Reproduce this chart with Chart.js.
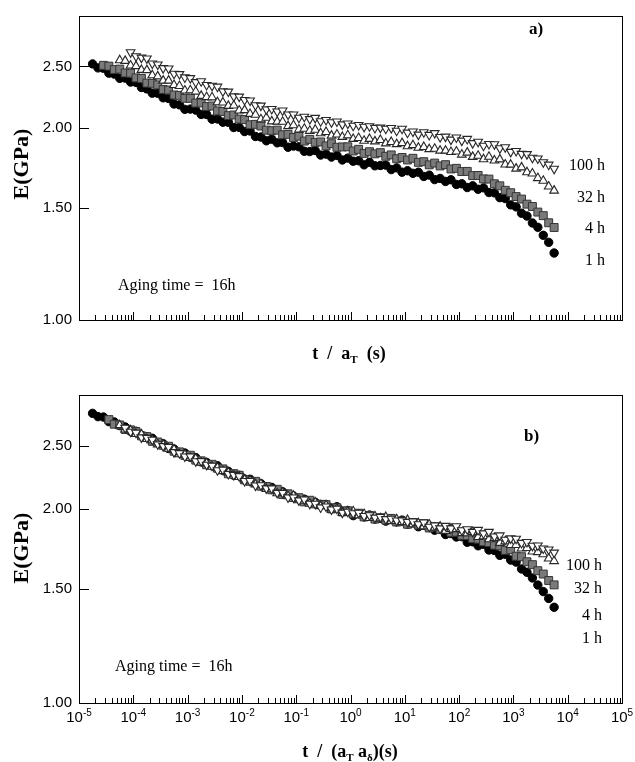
<!DOCTYPE html>
<html>
<head>
<meta charset="utf-8">
<script src="https://cdn.jsdelivr.net/npm/chart.js@4.4.1/dist/chart.umd.min.js"></script>
<style>
  body { margin: 0; background: #fff; }
  .panel { position: absolute; left: 0; width: 635px; }
  #wrapA { top: 0; height: 375px; }
  #wrapB { top: 375px; height: 387px; }
</style>
</head>
<body>
<div class="panel" id="wrapA"><canvas id="chartA"></canvas></div>
<div class="panel" id="wrapB"><canvas id="chartB"></canvas></div>
<script>
// ==============================
// Data
// ==============================
// log10 of the reduced time, one value per measured point
const logT = [
  -4.75,-4.65,-4.55,-4.45,-4.35,-4.25,-4.15,-4.05,-3.95,-3.85,
  -3.75,-3.65,-3.55,-3.45,-3.35,-3.25,-3.15,-3.05,-2.95,-2.85,
  -2.75,-2.65,-2.55,-2.45,-2.35,-2.25,-2.15,-2.05,-1.95,-1.85,
  -1.75,-1.65,-1.55,-1.45,-1.35,-1.25,-1.15,-1.05,-0.95,-0.85,
  -0.75,-0.65,-0.55,-0.45,-0.35,-0.25,-0.15,-0.05,0.05,0.15,
  0.25,0.35,0.45,0.55,0.65,0.75,0.85,0.95,1.05,1.15,
  1.25,1.35,1.45,1.55,1.65,1.75,1.85,1.95,2.05,2.15,
  2.25,2.35,2.45,2.55,2.65,2.75,2.85,2.95,3.05,3.15,
  3.25,3.35,3.45,3.55,3.65,3.75
];

// panel a) E (GPa) vs t/aT
const a1h = [
  2.523,2.487,2.484,2.440,2.432,2.395,2.397,2.363,2.360,2.317,
  2.305,2.270,2.269,2.232,2.227,2.183,2.176,2.141,2.143,2.135,
  2.102,2.102,2.066,2.068,2.044,2.043,2.005,2.006,1.976,1.980,
  1.941,1.937,1.911,1.922,1.897,1.899,1.867,1.875,1.870,1.840,
  1.838,1.845,1.815,1.821,1.802,1.813,1.783,1.795,1.775,1.778,
  1.752,1.768,1.746,1.748,1.750,1.722,1.733,1.706,1.715,1.699,
  1.706,1.680,1.688,1.661,1.668,1.650,1.660,1.632,1.636,1.614,
  1.624,1.604,1.612,1.585,1.583,1.556,1.551,1.516,1.505,1.471,
  1.456,1.420,1.398,1.358,1.324,1.274
];
const a4h = [
  null,null,
  2.510,2.503,2.472,2.476,2.442,2.440,2.399,2.394,
  2.354,2.352,2.339,2.300,2.296,2.255,2.252,2.228,2.228,2.190,
  2.191,2.163,2.167,2.129,2.125,2.093,2.098,2.067,2.063,2.025,
  2.028,2.016,1.986,1.982,1.986,1.953,1.956,1.934,1.943,1.909,
  1.921,1.900,1.903,1.876,1.891,1.867,1.869,1.870,1.842,1.853,
  1.826,1.837,1.823,1.831,1.807,1.816,1.791,1.799,1.783,1.794,
  1.768,1.772,1.752,1.763,1.745,1.753,1.726,1.730,1.710,1.711,
  1.685,1.686,1.665,1.664,1.636,1.624,1.598,1.584,1.562,1.548,
  1.520,1.507,1.477,1.458,1.421,1.397
];
const a32h = [
  null,null,null,null,null,
  2.557,2.551,2.508,2.503,2.469,
  2.467,2.422,2.412,2.375,2.375,2.338,2.329,2.292,2.294,2.283,
  2.248,2.238,2.236,2.197,2.195,2.168,2.171,2.132,2.135,2.106,
  2.100,2.065,2.077,2.050,2.048,2.047,2.015,2.021,1.990,1.996,
  1.981,1.989,1.964,1.973,1.947,1.955,1.938,1.949,1.924,1.930,
  1.911,1.924,1.907,1.917,1.893,1.903,1.888,1.895,1.874,1.881,
  1.864,1.869,1.854,1.857,1.844,1.844,1.835,1.838,1.818,1.831,
  1.803,1.810,1.788,1.804,1.780,1.787,1.754,1.753,1.728,1.736,
  1.706,1.698,1.670,1.654,1.620,1.596
];
const a100h = [
  null,null,null,null,null,null,null,
  2.631,2.594,2.581,
  2.573,2.527,2.518,2.485,2.481,2.435,2.432,2.403,2.397,2.362,
  2.370,2.338,2.331,2.324,2.285,2.283,2.244,2.242,2.215,2.210,
  2.173,2.170,2.141,2.144,2.124,2.132,2.101,2.102,2.077,2.085,
  2.067,2.076,2.051,2.060,2.043,2.049,2.028,2.034,2.018,2.023,
  2.010,2.014,2.002,2.004,1.996,2.001,1.982,1.996,1.968,1.976,
  1.954,1.971,1.952,1.965,1.937,1.940,1.919,1.934,1.912,1.924,
  1.895,1.904,1.877,1.889,1.887,1.860,1.867,1.836,1.842,1.823,
  1.821,1.797,1.793,1.768,1.753,1.727
];

// panel b) E (GPa) vs t/(aT a_delta)
const b1h = [
  2.810,2.777,2.773,2.728,2.725,2.690,2.677,2.636,2.636,2.598,
  2.584,2.571,2.527,2.522,2.479,2.474,2.443,2.439,2.403,2.400,
  2.363,2.359,2.331,2.331,2.293,2.285,2.253,2.253,2.223,2.221,
  2.187,2.187,2.161,2.158,2.128,2.124,2.098,2.093,2.073,2.069,
  2.051,2.046,2.031,2.029,2.005,2.014,1.983,1.987,1.951,1.964,
  1.943,1.955,1.927,1.932,1.913,1.928,1.908,1.920,1.892,1.901,
  1.875,1.885,1.881,1.852,1.857,1.824,1.830,1.808,1.810,1.774,
  1.777,1.752,1.761,1.726,1.723,1.693,1.700,1.665,1.653,1.613,
  1.594,1.562,1.523,1.488,1.452,1.407
];
const b4h = [
  null,null,null,
  2.748,2.703,2.696,2.653,2.649,2.633,2.593,
  2.586,2.543,2.537,2.507,2.499,2.455,2.449,2.418,2.420,2.378,
  2.372,2.339,2.343,2.310,2.305,2.265,2.266,2.253,2.216,2.205,
  2.205,2.167,2.165,2.139,2.143,2.104,2.109,2.081,2.080,2.049,
  2.061,2.034,2.031,2.029,1.998,2.006,1.977,1.985,1.963,1.968,
  1.942,1.952,1.927,1.936,1.920,1.932,1.907,1.912,1.892,1.904,
  1.887,1.896,1.867,1.874,1.857,1.861,1.838,1.839,1.818,1.817,
  1.797,1.794,1.777,1.772,1.756,1.751,1.724,1.727,1.688,1.685,
  1.655,1.638,1.603,1.584,1.548,1.524
];
const b32h = [
  null,null,null,null,null,
  2.694,2.652,2.644,2.611,2.607,
  2.564,2.553,2.516,2.512,2.477,2.470,2.428,2.425,2.397,2.390,
  2.357,2.351,2.322,2.314,2.287,2.276,2.251,2.239,2.218,2.210,
  2.181,2.184,2.146,2.144,2.113,2.119,2.091,2.094,2.061,2.059,
  2.035,2.045,2.018,2.025,1.993,1.999,1.970,1.979,1.981,1.954,
  1.962,1.935,1.946,1.933,1.942,1.914,1.926,1.907,1.921,1.892,
  1.899,1.878,1.890,1.869,1.876,1.848,1.861,1.859,1.833,1.832,
  1.840,1.808,1.813,1.793,1.802,1.770,1.780,1.757,1.757,1.735,
  1.738,1.717,1.713,1.700,1.674,1.659
];
const b100h = [
  null,null,null,null,null,null,
  2.669,2.632,2.622,2.579,
  2.575,2.558,2.516,2.500,2.492,2.447,2.438,2.409,2.410,2.368,
  2.370,2.339,2.331,2.294,2.299,2.264,2.255,2.246,2.207,2.207,
  2.172,2.174,2.150,2.149,2.116,2.116,2.082,2.081,2.060,2.066,
  2.035,2.035,2.009,2.016,1.994,2.000,1.972,1.978,1.968,1.971,
  1.948,1.954,1.937,1.942,1.927,1.929,1.917,1.917,1.908,1.911,
  1.892,1.904,1.875,1.884,1.864,1.881,1.864,1.878,1.852,1.858,
  1.841,1.854,1.831,1.841,1.811,1.818,1.790,1.799,1.797,1.770,
  1.776,1.752,1.754,1.735,1.729,1.710
];

const agingLabels = ["100 h", "32 h", "4 h", "1 h"];
const yTickVals = [1.0, 1.5, 2.0, 2.5];
const xDecades = [-5, -4, -3, -2, -1, 0, 1, 2, 3, 4, 5];

// ==============================
// Helpers
// ==============================
function toPoints(vals) {
  const pts = [];
  vals.forEach((v, i) => {
    if (v !== null) pts.push({ x: Math.pow(10, logT[i]), y: v });
  });
  return pts;
}

function makeDatasets(s1, s4, s32, s100) {
  return [
    { data: toPoints(s100), pointStyle: "triangle", rotation: 180, pointRadius: 5,
      backgroundColor: "#ffffff", borderColor: "#262626", borderWidth: 1.1, order: 0 },
    { data: toPoints(s32), pointStyle: "triangle", pointRadius: 5,
      backgroundColor: "#ffffff", borderColor: "#262626", borderWidth: 1.1, order: 1 },
    { data: toPoints(s4), pointStyle: "rect", pointRadius: 5.6,
      backgroundColor: "#7a7a7a", borderColor: "#353535", borderWidth: 1, order: 2 },
    { data: toPoints(s1), pointStyle: "circle", pointRadius: 4.2,
      backgroundColor: "#000000", borderColor: "#000000", borderWidth: 1, order: 3 },
  ];
}

// draw a run of text pieces (for subscripts / superscripts)
function drawRich(ctx, parts, x, y, align) {
  let total = 0;
  parts.forEach((p) => { ctx.font = p.font; total += ctx.measureText(p.text).width; });
  let cx = align === "center" ? x - total / 2 : align === "right" ? x - total : x;
  ctx.textAlign = "left";
  ctx.textBaseline = "alphabetic";
  parts.forEach((p) => {
    ctx.font = p.font;
    ctx.fillText(p.text, cx, y + (p.dy || 0));
    cx += ctx.measureText(p.text).width;
  });
}

const SERIF = "'Liberation Serif', 'Times New Roman', serif";
const SANS = "'Liberation Sans', Arial, sans-serif";

// frame, inward ticks and all annotation text
function decorPlugin(spec) {
  return {
    id: "decor",
    afterDraw(chart) {
      const ctx = chart.ctx;
      const area = chart.chartArea;
      const xs = chart.scales.x;
      const ys = chart.scales.y;
      ctx.save();
      ctx.strokeStyle = "#000";
      ctx.fillStyle = "#000";
      ctx.lineWidth = 1;
      ctx.strokeRect(area.left + 0.5, area.top + 0.5, area.right - area.left, area.bottom - area.top);

      // x ticks: decades long, 2..9 short
      ctx.beginPath();
      for (let e = -5; e < 5; e++) {
        for (let m = 1; m <= 9; m++) {
          const px = Math.round(xs.getPixelForValue(m * Math.pow(10, e))) + 0.5;
          if (px <= area.left + 1) continue;
          const len = m === 1 ? 8 : 5;
          ctx.moveTo(px, area.bottom);
          ctx.lineTo(px, area.bottom - len);
        }
      }
      // y ticks
      yTickVals.forEach((v) => {
        if (v <= 1) return;
        const py = Math.round(ys.getPixelForValue(v)) + 0.5;
        ctx.moveTo(area.left, py);
        ctx.lineTo(area.left + 10, py);
      });
      ctx.stroke();

      // x tick labels with superscript exponents
      if (spec.xLabels) {
        xDecades.forEach((e) => {
          const px = xs.getPixelForValue(Math.pow(10, e));
          drawRich(ctx, [
            { text: "10", font: "15px " + SANS },
            { text: String(e), font: "10px " + SANS, dy: -6 },
          ], px, area.bottom + 19, "center");
        });
      }

      // y axis title
      ctx.save();
      ctx.translate(22, spec.yTitleY);
      ctx.rotate(-Math.PI / 2);
      ctx.font = "bold 22px " + SERIF;
      ctx.textAlign = "center";
      ctx.textBaseline = "middle";
      ctx.fillText("E(GPa)", 0, 0);
      ctx.restore();

      // x axis title
      drawRich(ctx, spec.xTitle, spec.xTitleX, spec.xTitleY, "center");

      // panel tag
      ctx.font = "bold 17px " + SERIF;
      ctx.textAlign = "left";
      ctx.fillText(spec.tag, spec.tagX, spec.tagY);

      // aging time note
      ctx.font = "16px " + SERIF;
      ctx.fillText("Aging time =  16h", spec.noteX, spec.noteY);

      // curve labels
      ctx.textAlign = "right";
      agingLabels.forEach((lab, i) => {
        ctx.fillText(lab, spec.labX, spec.labY[i]);
      });
      ctx.restore();
    },
  };
}

function makeChart(canvasId, datasets, topPad, xAxisH, spec) {
  return new Chart(document.getElementById(canvasId), {
    type: "scatter",
    data: { datasets: datasets },
    options: {
      responsive: true,
      maintainAspectRatio: false,
      animation: false,
      layout: { padding: { top: topPad, right: 13, left: 0, bottom: 0 } },
      plugins: { legend: { display: false }, tooltip: { enabled: false } },
      scales: {
        x: {
          type: "logarithmic",
          min: 1e-5,
          max: 1e5,
          grid: { display: false, drawTicks: false },
          border: { display: false },
          ticks: { display: false },
          afterFit: (s) => { s.height = xAxisH; },
        },
        y: {
          type: "logarithmic",
          min: 1,
          max: 3,
          grid: { display: false, drawTicks: false },
          border: { display: false },
          afterBuildTicks: (s) => { s.ticks = yTickVals.map((v) => ({ value: v })); },
          ticks: {
            autoSkip: false,
            padding: 7,
            color: "#000",
            font: { family: "Liberation Sans", size: 15 },
            callback: (v) => Number(v).toFixed(2),
          },
          afterFit: (s) => { s.width = 79; },
        },
      },
    },
    plugins: [decorPlugin(spec)],
  });
}

// ==============================
// Build both panels
// ==============================
const boldT = "bold 18px " + SERIF;
const subT = "bold 11px " + SERIF;

makeChart("chartA", makeDatasets(a1h, a4h, a32h, a100h), 12, 55, {
  xLabels: false,
  yTitleY: 164,
  xTitle: [
    { text: "t  /  a", font: boldT },
    { text: "T", font: subT, dy: 4 },
    { text: "  (s)", font: boldT },
  ],
  xTitleX: 349, xTitleY: 359,
  tag: "a)", tagX: 529, tagY: 34,
  noteX: 118, noteY: 290,
  labX: 605, labY: [170, 202, 233, 265],
});

makeChart("chartB", makeDatasets(b1h, b4h, b32h, b100h), 20, 59, {
  xLabels: true,
  yTitleY: 173,
  xTitle: [
    { text: "t  /  (a", font: boldT },
    { text: "T", font: subT, dy: 4 },
    { text: " a", font: boldT },
    { text: "\u03b4", font: subT, dy: 4 },
    { text: ")(s)", font: boldT },
  ],
  xTitleX: 350, xTitleY: 382,
  tag: "b)", tagX: 524, tagY: 66,
  noteX: 115, noteY: 296,
  labX: 602, labY: [195, 218, 245, 268],
});
</script>
</body>
</html>
